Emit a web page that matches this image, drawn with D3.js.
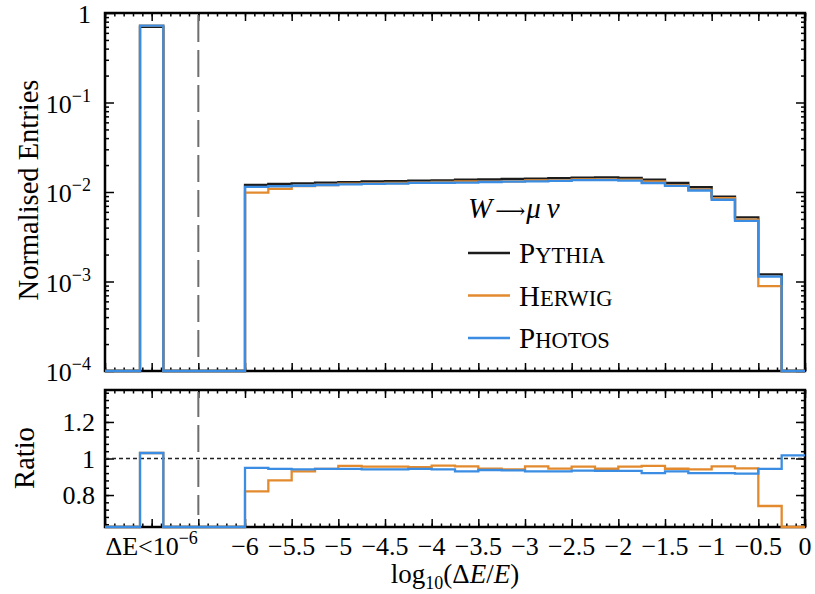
<!DOCTYPE html>
<html>
<head>
<meta charset="utf-8">
<script src="https://cdnjs.cloudflare.com/ajax/libs/d3/7.8.5/d3.min.js"></script>
<style>
  body { margin: 0; background: #fff; }
  svg { display: block; font-family: "Liberation Serif", "DejaVu Serif", serif; }
</style>
</head>
<body>
<svg id="chart" width="815" height="594"></svg>
<script>
// bin low edges (width 0.25); first bin is the underflow bin "ΔE<10^-6"
var binLow = [-7.125,
  -6, -5.75, -5.5, -5.25, -5, -4.75, -4.5, -4.25, -4, -3.75, -3.5, -3.25,
  -3, -2.75, -2.5, -2.25, -2, -1.75, -1.5, -1.25, -1, -0.75, -0.5, -0.25];
var binWidth = 0.25;

// normalised entries for Pythia
var pythia = [0.70,
  0.0120, 0.0123, 0.0125, 0.0127, 0.0129, 0.0131, 0.0132, 0.0134, 0.0135, 0.0137, 0.0138, 0.0140,
  0.0141, 0.0143, 0.0145, 0.0146, 0.0144, 0.0137, 0.0126, 0.0113, 0.0089, 0.0052, 0.0012, 0.00005];

// ratios to Pythia
var herwigRatio = [1.03,
  0.82, 0.88, 0.93, 0.943, 0.96, 0.955, 0.955, 0.952, 0.961, 0.957, 0.945, 0.94,
  0.957, 0.945, 0.955, 0.944, 0.955, 0.96, 0.944, 0.94, 0.957, 0.946, 0.74, 0];
var photosRatio = [1.03,
  0.949, 0.943, 0.94, 0.943, 0.943, 0.94, 0.94, 0.943, 0.94, 0.93, 0.937, 0.935,
  0.93, 0.93, 0.934, 0.932, 0.932, 0.92, 0.93, 0.92, 0.92, 0.917, 0.943, 1.017];

var xTickLabels = [-6, -5.5, -5, -4.5, -4, -3.5, -3, -2.5, -2, -1.5, -1, -0.5, 0];
var yDecades = [1e-4, 1e-3, 1e-2, 1e-1, 1];
var ratioTicks = [0.8, 1, 1.2];

var series = [
  {name: 'Pythia', color: '#1c1c1c', values: pythia, ratio: null},
  {name: 'Herwig', color: '#e38a2f', values: pythia.map(function(v, i) { return v * herwigRatio[i]; }), ratio: herwigRatio},
  {name: 'Photos', color: '#3a8de2', values: pythia.map(function(v, i) { return v * photosRatio[i]; }), ratio: photosRatio}
];

var svg = d3.select('#chart');
var left = 105, right = 805;
var top1 = 13, bot1 = 371, top2 = 390, bot2 = 527;
var xMin = -7.5, xMax = 0;

var x = d3.scaleLinear().domain([xMin, xMax]).range([left, right]);
var y = d3.scaleLog().domain([1e-4, 1]).range([bot1, top1]).clamp(true);
var yr = d3.scaleLinear().domain([0.625, 1.375]).range([bot2, top2]).clamp(true);

//turn bins into step points, empty gaps go to zero
var steps = function(values) {
  var pts = [[xMin, 0]];
  binLow.forEach(function(x0, i) {
    var prevEnd = i === 0 ? xMin : binLow[i - 1] + binWidth;
    if (x0 > prevEnd + 1e-9) { pts.push([prevEnd, 0]); }
    pts.push([x0, values[i]]);
  });
  pts.push([binLow[binLow.length - 1] + binWidth, values[values.length - 1]]);
  return pts;
};

var lineTop = d3.line()
  .x(function(d) { return x(d[0]); })
  .y(function(d) { return d[1] <= 1e-4 ? y(1e-4) : y(d[1]); })
  .curve(d3.curveStepAfter);
var lineRatio = d3.line()
  .x(function(d) { return x(d[0]); })
  .y(function(d) { return yr(d[1]); })
  .curve(d3.curveStepAfter);

// frames
[[top1, bot1], [top2, bot2]].forEach(function(p) {
  svg.append('rect').attr('x', left).attr('y', p[0])
    .attr('width', right - left).attr('height', p[1] - p[0])
    .attr('fill', 'none').attr('stroke', '#000').attr('stroke-width', 2.5);
});

// ticks on all sides, pointing inwards
var xMinor = d3.range(0, 76).map(function(i) { return xMin + i * 0.1; });
var xMajor = d3.range(0, 16).map(function(i) { return xMin + i * 0.5; });
var tickAxis = function(axisFn, scale, vals, size, tr) {
  svg.append('g').attr('transform', tr)
    .call(axisFn(scale).tickValues(vals).tickSize(-size).tickFormat(''))
    .call(function(g) {
      g.select('.domain').remove();
      g.selectAll('line').attr('stroke', '#000').attr('stroke-width', 1.5);
    });
};
[[top1, bot1], [top2, bot2]].forEach(function(p) {
  tickAxis(d3.axisBottom, x, xMinor, 3.5, 'translate(0,' + p[1] + ')');
  tickAxis(d3.axisBottom, x, xMajor, 8, 'translate(0,' + p[1] + ')');
  tickAxis(d3.axisTop, x, xMinor, 3.5, 'translate(0,' + p[0] + ')');
  tickAxis(d3.axisTop, x, xMajor, 8, 'translate(0,' + p[0] + ')');
});
var yMinor = [];
[1e-4, 1e-3, 1e-2, 1e-1].forEach(function(dec) {
  d3.range(2, 10).forEach(function(k) { yMinor.push(dec * k); });
});
tickAxis(d3.axisLeft, y, yMinor, 4, 'translate(' + left + ',0)');
tickAxis(d3.axisLeft, y, yDecades, 9, 'translate(' + left + ',0)');
tickAxis(d3.axisRight, y, yMinor, 4, 'translate(' + right + ',0)');
tickAxis(d3.axisRight, y, yDecades, 9, 'translate(' + right + ',0)');
var rMinor = d3.range(0, 19).map(function(i) { return 0.64 + i * 0.04; });
var rMajor = [0.8, 1.0, 1.2];
tickAxis(d3.axisLeft, yr, rMinor, 4, 'translate(' + left + ',0)');
tickAxis(d3.axisLeft, yr, rMajor, 9, 'translate(' + left + ',0)');
tickAxis(d3.axisRight, yr, rMinor, 4, 'translate(' + right + ',0)');
tickAxis(d3.axisRight, yr, rMajor, 9, 'translate(' + right + ',0)');

// dashed separator for the underflow bin
[[top1, bot1, 0], [top2, bot2, 2]].forEach(function(p) {
  svg.append('line').attr('x1', x(-6.5)).attr('x2', x(-6.5))
    .attr('y1', p[0] + 2).attr('y2', p[1] - 12)
    .attr('stroke', '#6e6e6e').attr('stroke-width', 2)
    .attr('stroke-dasharray', '27,8').attr('stroke-dashoffset', p[2]);
});

// ratio = 1 reference line
svg.append('line').attr('x1', left).attr('x2', right)
  .attr('y1', yr(1)).attr('y2', yr(1))
  .attr('stroke', '#222').attr('stroke-width', 1.3).attr('stroke-dasharray', '4,3');

// histograms
series.forEach(function(s) {
  svg.append('path').attr('d', lineTop(steps(s.values)))
    .attr('fill', 'none').attr('stroke', s.color).attr('stroke-width', 2.3);
});
series.filter(function(s) { return s.ratio; }).forEach(function(s) {
  svg.append('path').attr('d', lineRatio(steps(s.ratio)))
    .attr('fill', 'none').attr('stroke', s.color).attr('stroke-width', 2.3);
});

// tick labels
var fs = 26;
yDecades.forEach(function(v) {
  var t = svg.append('text').attr('x', 91).attr('y', y(v) + 10)
    .attr('text-anchor', 'end').attr('font-size', fs);
  if (v === 1) {
    t.text('1');
  } else {
    t.append('tspan').text('10');
    t.append('tspan').attr('font-size', 18).attr('dy', -11)
      .text('\u2212' + Math.round(-Math.log10(v)));
  }
});
ratioTicks.forEach(function(v) {
  svg.append('text').attr('x', 95).attr('y', yr(v) + 9)
    .attr('text-anchor', 'end').attr('font-size', fs)
    .text(v === 1 ? '1' : d3.format('.1f')(v));
});
xTickLabels.forEach(function(v) {
  svg.append('text').attr('x', x(v)).attr('y', 555)
    .attr('text-anchor', 'middle').attr('font-size', fs)
    .text(v === 0 ? '0' : '\u2212' + Math.abs(v));
});
var uf = svg.append('text').attr('x', x(-7)).attr('y', 555)
  .attr('text-anchor', 'middle').attr('font-size', fs);
uf.append('tspan').text('\u0394E<10');
uf.append('tspan').attr('font-size', 18).attr('dy', -11).text('\u22126');

// axis titles
svg.append('text').attr('transform', 'translate(38,190) rotate(-90)')
  .attr('text-anchor', 'middle').attr('font-size', 28.5).text('Normalised Entries');
svg.append('text').attr('transform', 'translate(34,458) rotate(-90)')
  .attr('text-anchor', 'middle').attr('font-size', 28.5).text('Ratio');
var xl = svg.append('text').attr('x', 455).attr('y', 583)
  .attr('text-anchor', 'middle').attr('font-size', 27);
xl.append('tspan').text('log');
xl.append('tspan').attr('font-size', 18).attr('dy', 6).text('10');
xl.append('tspan').attr('dy', -6).text('(\u0394');
xl.append('tspan').attr('font-style', 'italic').text('E');
xl.append('tspan').text('/');
xl.append('tspan').attr('font-style', 'italic').text('E');
xl.append('tspan').text(')');

// legend
var head = svg.append('text').attr('x', 468).attr('y', 218).attr('font-size', 29);
head.append('tspan').attr('font-style', 'italic').text('W');
head.append('tspan').attr('dx', 3).attr('font-family', 'DejaVu Serif').attr('font-size', 21).text('\u27f6');
head.append('tspan').attr('dx', 1).attr('font-style', 'italic').text('\u03bc\u2009\u03bd');
series.forEach(function(s, i) {
  var ly = 253 + i * 42.5;
  svg.append('line').attr('x1', 468).attr('x2', 510).attr('y1', ly).attr('y2', ly)
    .attr('stroke', s.color).attr('stroke-width', 2.3);
  var t = svg.append('text').attr('x', 519).attr('y', ly + 10).attr('font-size', 29);
  t.append('tspan').text(s.name.charAt(0));
  t.append('tspan').attr('font-size', 22.5).text(s.name.slice(1).toUpperCase());
});
</script>
</body>
</html>
